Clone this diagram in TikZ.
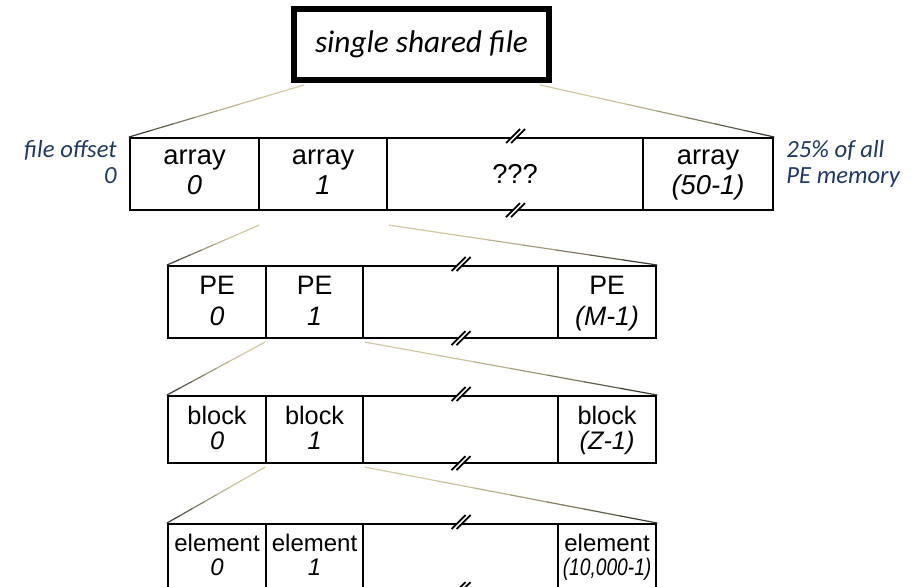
\documentclass[tikz,border=0pt]{standalone}
\usepackage{fontspec}
\usepackage{graphicx}
\setmainfont{Liberation Sans}
\newfontfamily\calfont{Carlito}
\usetikzlibrary{positioning}
\usetikzlibrary{calc}
\newdimen\pxu \pxu=0.75pt
\definecolor{linktan}{RGB}{210,200,160}
\definecolor{linkdark}{RGB}{45,45,40}
\definecolor{notenavy}{RGB}{31,56,100}
\newcommand{\twoline}[2]{#1\\\smash{\textit{#2}}}
\tikzset{cell/.style = {draw, line width=1.6pt, inner sep=0, anchor=north west, align=center, execute at end node={\rule[-3\pxu]{0pt}{3\pxu}}}}
\tikzset{rowa/.style = {cell, minimum height=72\pxu, font=\fontsize{20.5}{22.5}\selectfont, execute at begin node={\rule{0pt}{21\pxu}}}}
\tikzset{rowb/.style = {cell, minimum height=72\pxu, font=\fontsize{20}{23.2}\selectfont, execute at begin node={\rule{0pt}{22\pxu}}}}
\tikzset{rowc/.style = {cell, minimum height=67\pxu, font=\fontsize{19}{18.75}\selectfont, execute at begin node={\rule{0pt}{17\pxu}}}}
\tikzset{rowd/.style = {cell, minimum height=65\pxu, font=\fontsize{18}{18}\selectfont, execute at begin node={\rule{0pt}{18\pxu}}}}
\tikzset{note/.style = {inner sep=0, text=notenavy, font=\calfont\itshape\fontsize{18.5}{19}\selectfont}}
% thin link whose colour darkens towards its lower end
\newcommand{\taperline}[2]{%
  \foreach \k/\p in {0/0,1/0,2/5,3/15,4/30,5/50,6/70,7/90}
    \draw[line width=0.9pt, line cap=round, linkdark!\p!linktan] ($(#1)!\k/8!(#2)$) -- ($(#1)!\k/8+1/8!(#2)$);}
% "//" break mark on a box edge
\newcommand{\brkmark}[1]{%
  \fill[white] ($(#1)+(-9,6)$) -- ($(#1)+(5,-8)$) -- ($(#1)+(10,-8)$) -- ($(#1)+(-4,6)$) -- cycle;
  \draw[line width=1.3pt] ($(#1)+(-9,6)$) -- ($(#1)+(5,-8)$) ($(#1)+(-4,6)$) -- ($(#1)+(10,-8)$);}

\begin{document}
\begin{tikzpicture}[x=0.75pt, y=-0.75pt]
        \useasboundingbox (0,0) rectangle (913,586);
        \clip (0,0) rectangle (913,586);
        % the file
        \node [draw, line width=4.5pt, minimum width=255\pxu, minimum height=71\pxu, font=\calfont\itshape\fontsize{23.5}{26}\selectfont] (top) at (421.5,44.5) {single shared file};
        % arrays
        \node [rowa, minimum width=129\pxu] (a0) at (129,137) {\twoline{array}{0}};
        \node [rowa, minimum width=128\pxu] (a1) at (258,137) {\twoline{array}{1}};
        \node [rowa, minimum width=256\pxu, execute at begin node={}, execute at end node={}] (amid) at (386,137) {???};
        \node [rowa, minimum width=130\pxu] (aN) at (642,137) {\twoline{array}{(50-1)}};
        \node [note, anchor=east, align=right] (off) at ($(a0.west)+(-12,-12)$) {file offset\\0};
        \node [note, anchor=west, align=left] (pct) at ($(aN.east)+(12,-10)$) {25\% of all\\PE memory};
        % PEs
        \node [rowb, minimum width=98\pxu] (b0) at (167,265) {\twoline{PE}{0}};
        \node [rowb, minimum width=97\pxu] (b1) at (265,265) {\twoline{PE}{1}};
        \node [rowb, minimum width=195\pxu] (bmid) at (362,265) {};
        \node [rowb, minimum width=98\pxu] (bN) at (557,265) {\twoline{PE}{(M-1)}};
        % blocks
        \node [rowc, minimum width=98\pxu] (c0) at (167,395) {\twoline{block}{0}};
        \node [rowc, minimum width=97\pxu] (c1) at (265,395) {\twoline{block}{1}};
        \node [rowc, minimum width=195\pxu] (cmid) at (362,395) {};
        \node [rowc, minimum width=98\pxu] (cN) at (557,395) {\twoline{block}{(Z-1)}};
        % elements
        \node [rowd, minimum width=98\pxu] (d0) at (167,523) {\twoline{element}{0}};
        \node [rowd, minimum width=97\pxu] (d1) at (265,523) {\twoline{element}{1}};
        \node [rowd, minimum width=195\pxu] (dmid) at (362,523) {};
        \node [rowd, minimum width=98\pxu] (dN) at (557,523) {\twoline{element}{\scalebox{0.8}[1]{(10,000-1)}}};
        % links between levels
        \coordinate (tl) at ($(top.south west)+(13,2)$);
        \coordinate (tr) at ($(top.south east)+(-12,2)$);
        \taperline{tl}{a0.north west}
        \taperline{tr}{aN.north east}
        \coordinate (al) at ($(a1.south west)+(1,14)$);
        \coordinate (ar) at ($(a1.south east)+(1,14)$);
        \taperline{al}{b0.north west}
        \taperline{ar}{bN.north east}
        \coordinate (bl) at ($(b1.south west)+(0,3)$);
        \coordinate (br) at ($(b1.south east)+(1,3)$);
        \taperline{bl}{c0.north west}
        \taperline{br}{cN.north east}
        \coordinate (cl) at ($(c1.south west)+(0,3)$);
        \coordinate (cr) at ($(c1.south east)+(1,3)$);
        \taperline{cl}{d0.north west}
        \taperline{cr}{dN.north east}
        % breaks
        \foreach \m in {amid,bmid,cmid,dmid} {
            \brkmark{\m.north}
            \brkmark{\m.south}
        }
    \end{tikzpicture}
\end{document}
